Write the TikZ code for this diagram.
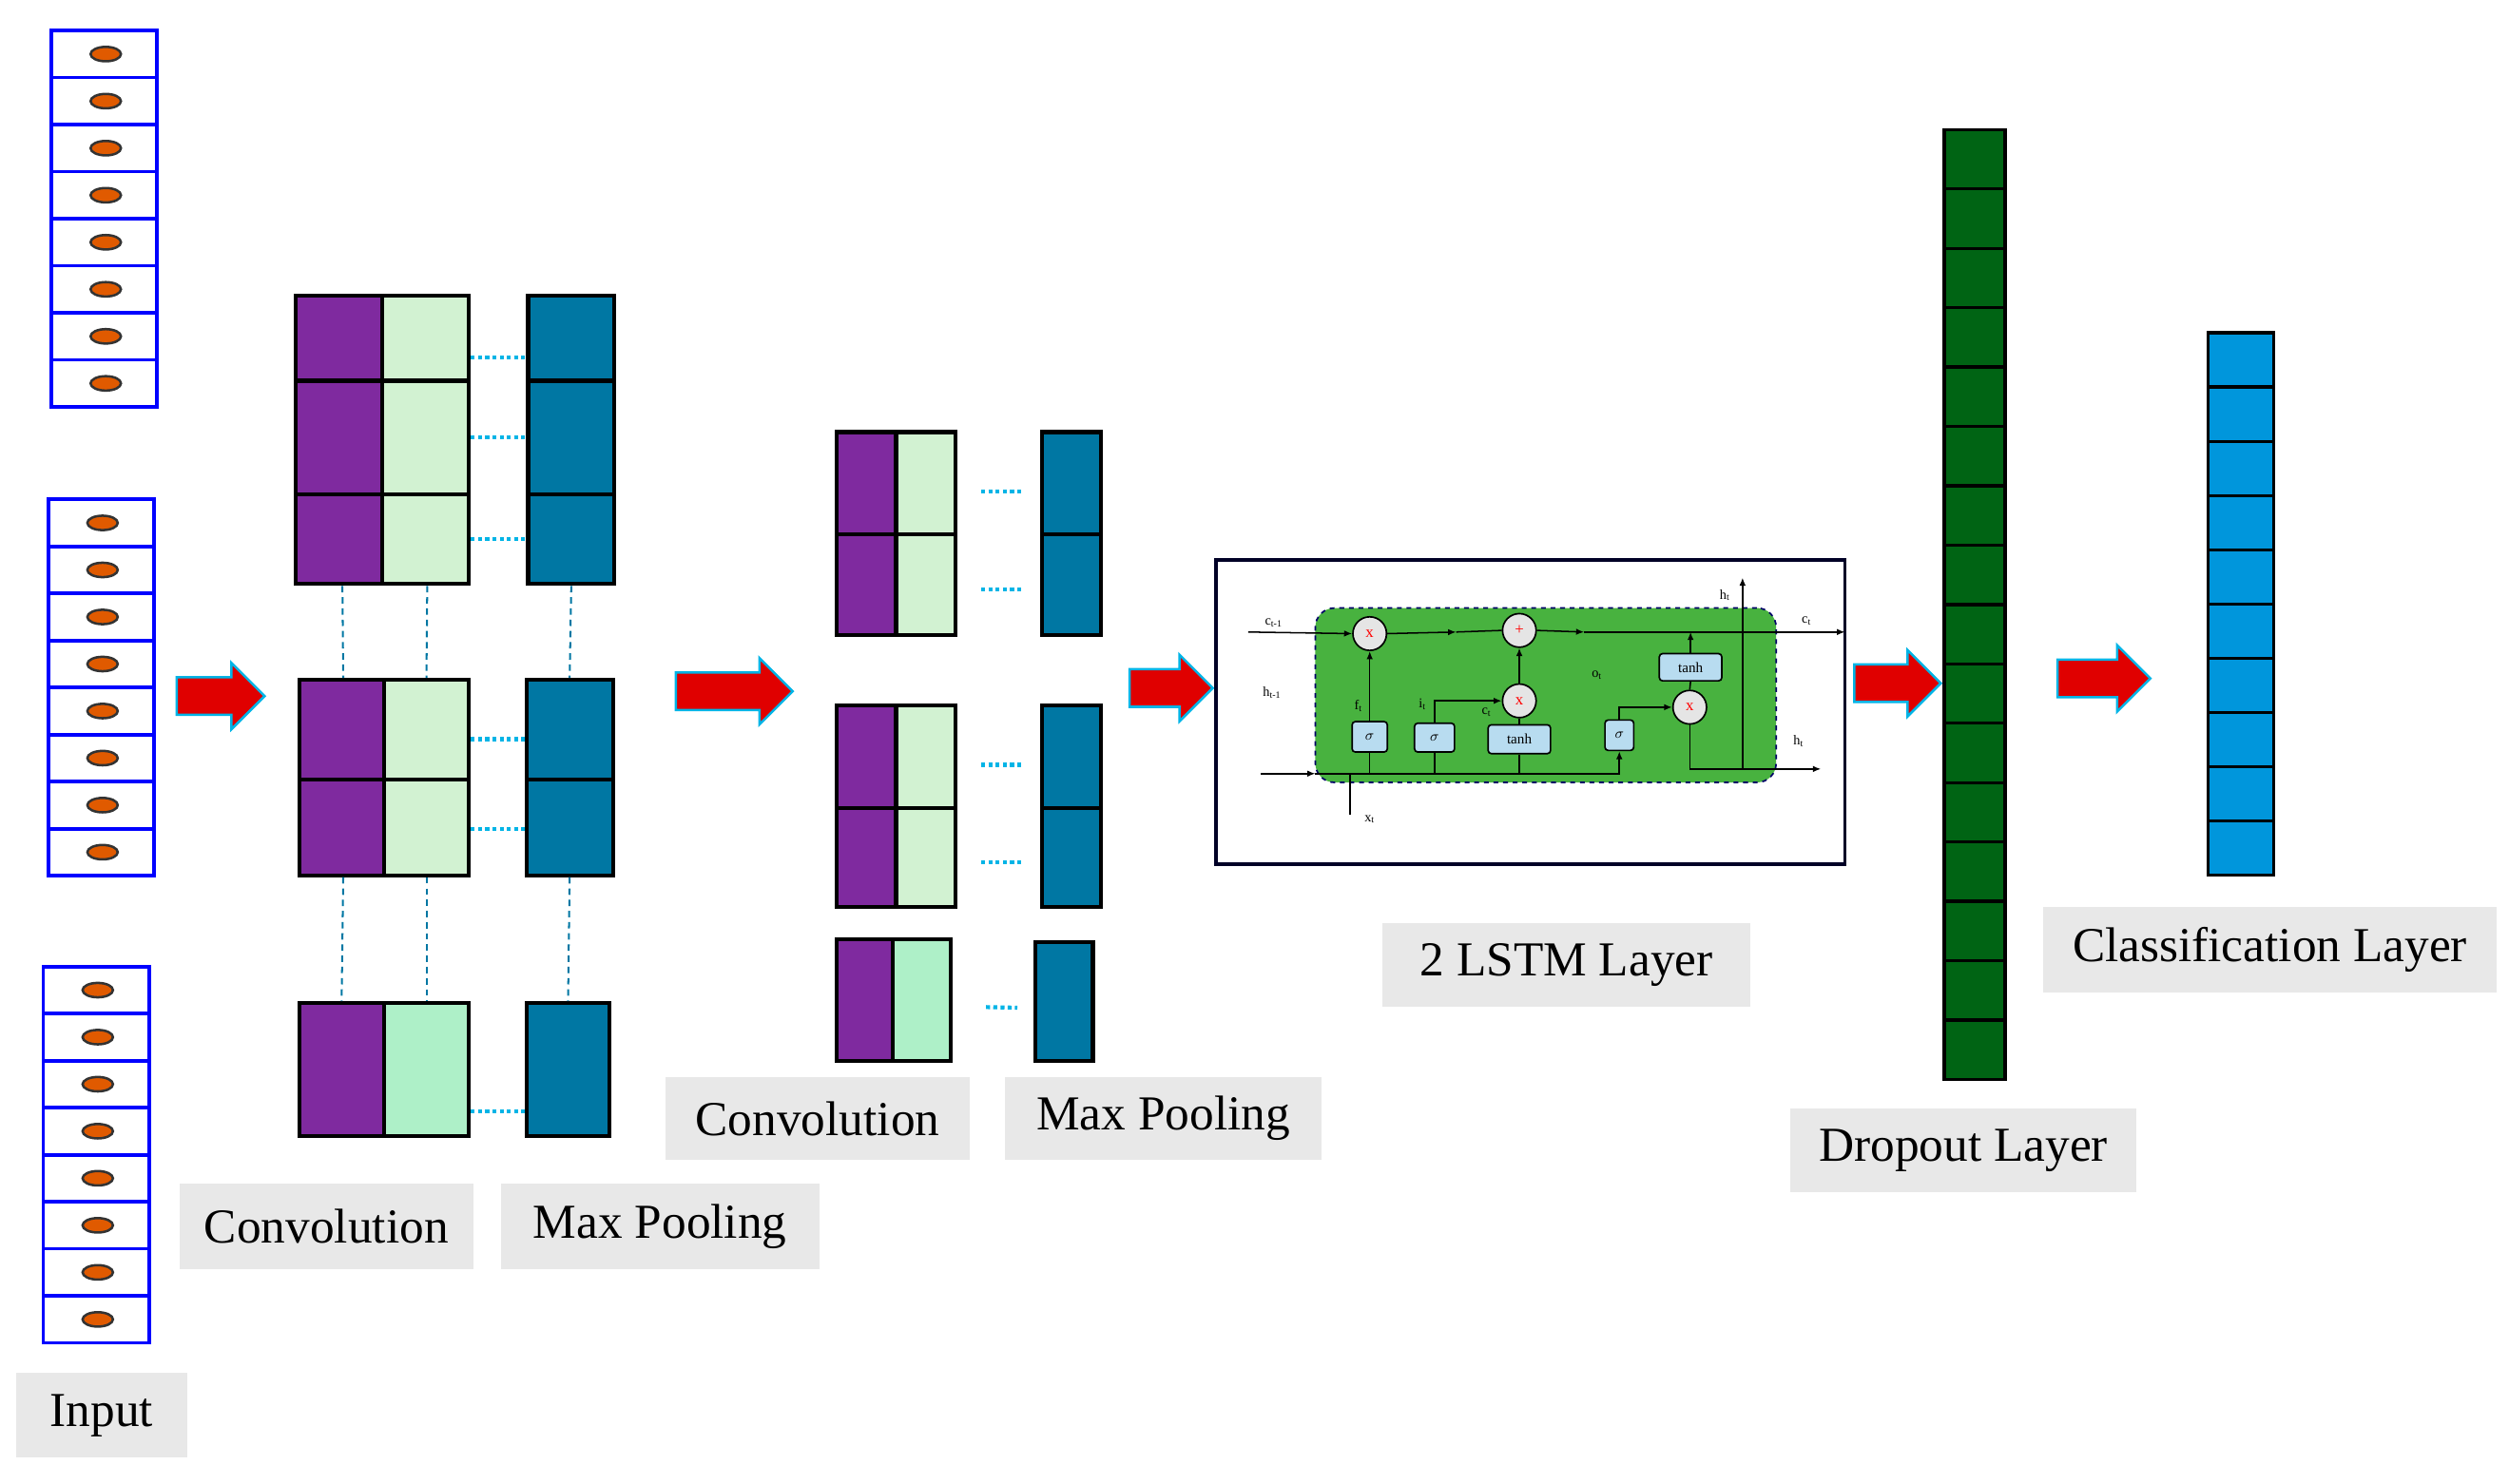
\documentclass[tikz,border=0pt]{standalone}
\usepackage{fontspec}
\setmainfont{Liberation Serif}
\usetikzlibrary{shapes.geometric,shapes.arrows,arrows.meta}
\definecolor{cpurple}{HTML}{7F2A9F}
\definecolor{cgreenl}{HTML}{D2F2D2}
\definecolor{cgreenm}{HTML}{AEF0C8}
\definecolor{cteal}{HTML}{0077A3}
\definecolor{cdrop}{HTML}{006414}
\definecolor{cclass}{HTML}{0096DC}
\definecolor{clabel}{HTML}{E8E8E8}
\definecolor{clstm}{HTML}{48B23F}
\definecolor{cgate}{HTML}{B8DCF0}
\definecolor{cdot}{HTML}{00B4E6}
\definecolor{cinp}{HTML}{E05A00}

% cell with corners given in picture pixels
\newcommand\cell[6]{\node[cell,fill=#6,minimum width={(#4-#2)*1pt},minimum height={(#5-#3)*1pt}] (#1) at ({(#2+#4)/2},{(#3+#5)/2}) {};}

\begin{document}
\begin{tikzpicture}[x=1pt,y=-1pt,
  cell/.style={draw=black,line width=2.5pt,inner sep=0pt},
  inp/.style={draw=blue,line width=2.2pt,fill=white,inner sep=0pt,minimum width=66pt,minimum height=29.4pt},
  dotc/.style={shape=ellipse,draw=black!80,line width=1.5pt,fill=cinp,inner sep=0pt,minimum width=19pt,minimum height=9pt},
  lab/.style={fill=clabel,inner sep=0pt,font=\fontsize{30.5}{33}\selectfont},
  bigarrow/.style={shape=single arrow,draw=cdot,line width=1.5pt,fill=red!88!black,inner xsep=0pt,inner ysep=11pt,single arrow head extend=9pt,single arrow head indent=0pt},
  hdots/.style={cdot,line width=2.5pt,dotted},
  vdash/.style={cteal,line width=1.2pt,dashed,dash pattern=on 4pt off 3pt},
  gatec/.style={circle,draw=black,line width=1pt,fill=gray!20,inner sep=0pt,minimum size=21pt,text=red,font=\fontsize{10}{10}\selectfont},
  gateb/.style={draw=black,line width=1pt,fill=cgate,rounded corners=2pt,inner sep=0pt,font=\fontsize{9}{9}\selectfont},
  sl/.style={font=\fontsize{8.5}{9}\selectfont,inner sep=0pt},
  wire/.style={line width=0.9pt},
  tip/.style={wire,-{Latex[length=5pt,width=4pt]}}
]
\useasboundingbox (0,0) rectangle (1568,927);

% Input columns
\foreach \c/\x/\y in {1/31/18,2/29/311,3/26/603}{
  \foreach \i in {0,...,7}{
    \node[inp,anchor=north west] (in\c-\i) at (\x,{\y+\i*29.4}) {};
    \node[dotc] (el\c-\i) at ([xshift=1pt]in\c-\i.center) {};
  }
}
\node[lab,minimum width=107pt,minimum height=53pt] (linput) at (63.5,884.5) {Input};

% Big arrows
\node[bigarrow,minimum height=55pt] (ar1) at (132,435) {};
\node[bigarrow,minimum height=73pt] (ar2) at (453,432) {};
\node[bigarrow,minimum height=52pt] (ar3) at (726,430) {};
\node[bigarrow,minimum height=54pt] (ar4) at (1180,427) {};
\node[bigarrow,minimum height=58pt] (ar5) at (1309,424) {};

% First convolution / pooling
\cell{a1p}{185}{185}{239}{238}{cpurple}
\cell{a2p}{185}{238}{239}{309}{cpurple}
\cell{a3p}{185}{309}{239}{365}{cpurple}
\cell{a1g}{239}{185}{293}{238}{cgreenl}
\cell{a2g}{239}{238}{293}{309}{cgreenl}
\cell{a3g}{239}{309}{293}{365}{cgreenl}
\cell{ma1}{330}{185}{384}{238}{cteal}
\cell{ma2}{330}{238}{384}{309}{cteal}
\cell{ma3}{330}{309}{384}{365}{cteal}
\cell{b1p}{187}{425}{240}{487}{cpurple}
\cell{b2p}{187}{487}{240}{547}{cpurple}
\cell{b1g}{240}{425}{293}{487}{cgreenl}
\cell{b2g}{240}{487}{293}{547}{cgreenl}
\cell{mb1}{329}{425}{383}{487}{cteal}
\cell{mb2}{329}{487}{383}{547}{cteal}
\cell{c1p}{187}{627}{240}{710}{cpurple}
\cell{c1g}{240}{627}{293}{710}{cgreenm}
\cell{mc1}{329}{627}{381}{710}{cteal}

\draw[hdots] ([yshift=-12pt]a1g.east) -- ([yshift=-12pt]ma1.west);
\draw[hdots] (a2g.east) -- (ma2.west);
\draw[hdots] (a3g.east) -- (ma3.west);
\draw[hdots] ([yshift=-6pt]b1g.east) -- ([yshift=-6pt]mb1.west);
\draw[hdots] ([yshift=-1pt]b2g.east) -- ([yshift=-1pt]mb2.west);
\draw[hdots] ([yshift=-26pt]c1g.east) -- ([yshift=-26pt]mc1.west);
\draw[vdash] ([xshift=2pt]a3p.south) -- ([xshift=1pt]b1p.north);
\draw[vdash] ([xshift=1pt]a3g.south) -- (b1g.north);
\draw[vdash] (ma3.south) -- (mb1.north);
\draw[vdash] ([xshift=1pt]b2p.south) -- (c1p.north);
\draw[vdash] (b2g.south) -- (c1g.north);
\draw[vdash] (mb2.south) -- (mc1.north);

\node[lab,minimum width=184pt,minimum height=53pt] (lconv1) at (204,766.5) {Convolution};
\node[lab,minimum width=199pt,minimum height=53pt] (lpool1) at (412.5,766.5) {Max Pooling};

% Second convolution / pooling
\cell{d1p}{523}{270}{560}{334}{cpurple}
\cell{d2p}{523}{334}{560}{397}{cpurple}
\cell{d1g}{560}{270}{597}{334}{cgreenl}
\cell{d2g}{560}{334}{597}{397}{cgreenl}
\cell{md1}{651}{270}{688}{334}{cteal}
\cell{md2}{651}{334}{688}{397}{cteal}
\cell{e1p}{523}{441}{560}{505}{cpurple}
\cell{e2p}{523}{505}{560}{567}{cpurple}
\cell{e1g}{560}{441}{597}{505}{cgreenl}
\cell{e2g}{560}{505}{597}{567}{cgreenl}
\cell{me1}{651}{441}{688}{505}{cteal}
\cell{me2}{651}{505}{688}{567}{cteal}
\cell{f1p}{523}{587}{558}{663}{cpurple}
\cell{f1g}{558}{587}{594}{663}{cgreenm}
\cell{mf1}{647}{589}{683}{663}{cteal}

\draw[hdots,shorten <=15pt,shorten >=10pt] ([yshift=-5pt]d1g.east) -- ([yshift=-5pt]md1.west);
\draw[hdots,shorten <=15pt,shorten >=10pt] ([yshift=-3pt]d2g.east) -- ([yshift=-3pt]md2.west);
\draw[hdots,shorten <=15pt,shorten >=10pt] ([yshift=-5pt]e1g.east) -- ([yshift=-5pt]me1.west);
\draw[hdots,shorten <=15pt,shorten >=10pt] ([yshift=-3pt]e2g.east) -- ([yshift=-3pt]me2.west);
\draw[hdots,shorten <=21pt,shorten >=10pt] ([yshift=-4pt]f1g.east) -- ([yshift=-4pt]mf1.west);

\node[lab,minimum width=190pt,minimum height=52pt] (lconv2) at (511,699) {Convolution};
\node[lab,minimum width=198pt,minimum height=52pt] (lpool2) at (727,699) {Max Pooling};

% LSTM cell
\node[draw=black!85!blue,line width=2pt,minimum width=393pt,minimum height=190pt,inner sep=0pt] (lbox) at (956.5,445) {};
\node[draw=blue!40!black,dashed,line width=1pt,fill=clstm,rounded corners=12pt,minimum width=288pt,minimum height=109pt,inner sep=0pt] (lcell) at (966,434.5) {};
\node[gatec] (g1) at (856,396) {x};
\node[gatec] (g2) at (949.5,394) {+};
\node[gatec] (g3) at (949.5,438) {x};
\node[gatec] (g4) at (1056,442) {x};
\node[gateb,minimum width=22pt,minimum height=19pt] (s1) at (856,460.5) {$\sigma$};
\node[gateb,minimum width=25pt,minimum height=18pt] (s2) at (896.5,461) {$\sigma$};
\node[gateb,minimum width=39pt,minimum height=18pt] (t1) at (949.5,462) {tanh};
\node[gateb,minimum width=18pt,minimum height=19pt] (s3) at (1012,459.5) {$\sigma$};
\node[gateb,minimum width=39pt,minimum height=17pt] (t2) at (1056.5,417) {tanh};
\coordinate (cin) at (780,395);
\coordinate (cout) at (1153,395);
\coordinate (hin) at (788,483.5);
\coordinate (hb) at (822,483.5);
\coordinate (hout) at (1138,480.6);
\coordinate (hup) at (1089,361);
\coordinate (hupb) at (1089,480.6);
\coordinate (xt) at (843.6,509);
\coordinate (xtb) at (843.6,483.5);

\draw[tip] (cin) -- (g1.west);
\draw[tip] (g1.east) -- (910,395);
\draw[wire] (910,395) -- (g2.west);
\draw[tip] (g2.east) -- (990,395);
\draw[tip] (990,395) -- (cout);
\draw[tip] (hin) -- (hb);
\draw[tip] (hb) -| (s3.south);
\draw[wire] (s1.south) -- (s1.south |- hb);
\draw[wire] (s2.south) -- (s2.south |- hb);
\draw[wire] (t1.south) -- (t1.south |- hb);
\draw[wire] (xtb) -- (xt);
\draw[tip] (s1.north) -- (g1.south);
\draw[tip] (s2.north) |- (g3.west);
\draw[wire] (t1.north) -- (g3.south);
\draw[tip] (g3.north) -- (g2.south);
\draw[tip] (s3.north) |- (g4.west);
\draw[wire] (g4.north) -- (t2.south);
\draw[tip] (t2.north) -- (t2.north |- cin);
\draw[tip] (g4.south) |- (hout);
\draw[tip] (hupb) -- (hup);

\node[sl] (lc0) at (796,389) {c\textsubscript{t-1}};
\node[sl] (lh0) at (795,433) {h\textsubscript{t-1}};
\node[sl] (lct) at (1129,388) {c\textsubscript{t}};
\node[sl] (lht) at (1078,372) {h\textsubscript{t}};
\node[sl] (lht2) at (1124,463) {h\textsubscript{t}};
\node[sl] (lot) at (998,422) {o\textsubscript{t}};
\node[sl] (lft) at (849,441) {f\textsubscript{t}};
\node[sl] (lit) at (889,440) {i\textsubscript{t}};
\node[sl] (lcc) at (929,445) {c\textsubscript{t}};
\node[sl] (lxt) at (856,512) {x\textsubscript{t}};

\node[lab,minimum width=230pt,minimum height=52pt] (llstm) at (979,603) {2 LSTM Layer};

% Dropout layer
\foreach \i in {0,...,15}{
  \node[cell,fill=cdrop,line width=2pt,minimum width=38pt,minimum height=37.1pt,anchor=north west] (dr\i) at (1214,{80+\i*37.1}) {};
}
\node[lab,minimum width=216pt,minimum height=52pt] (ldrop) at (1227,719) {Dropout Layer};

% Classification layer
\foreach \i in {0,...,9}{
  \node[cell,fill=cclass,line width=2pt,minimum width=41pt,minimum height=33.9pt,anchor=north west] (cl\i) at (1379,{207+\i*33.9}) {};
}
\node[lab,minimum width=283pt,minimum height=53pt] (lclass) at (1418.5,593.5) {Classification Layer};
\end{tikzpicture}
\end{document}
